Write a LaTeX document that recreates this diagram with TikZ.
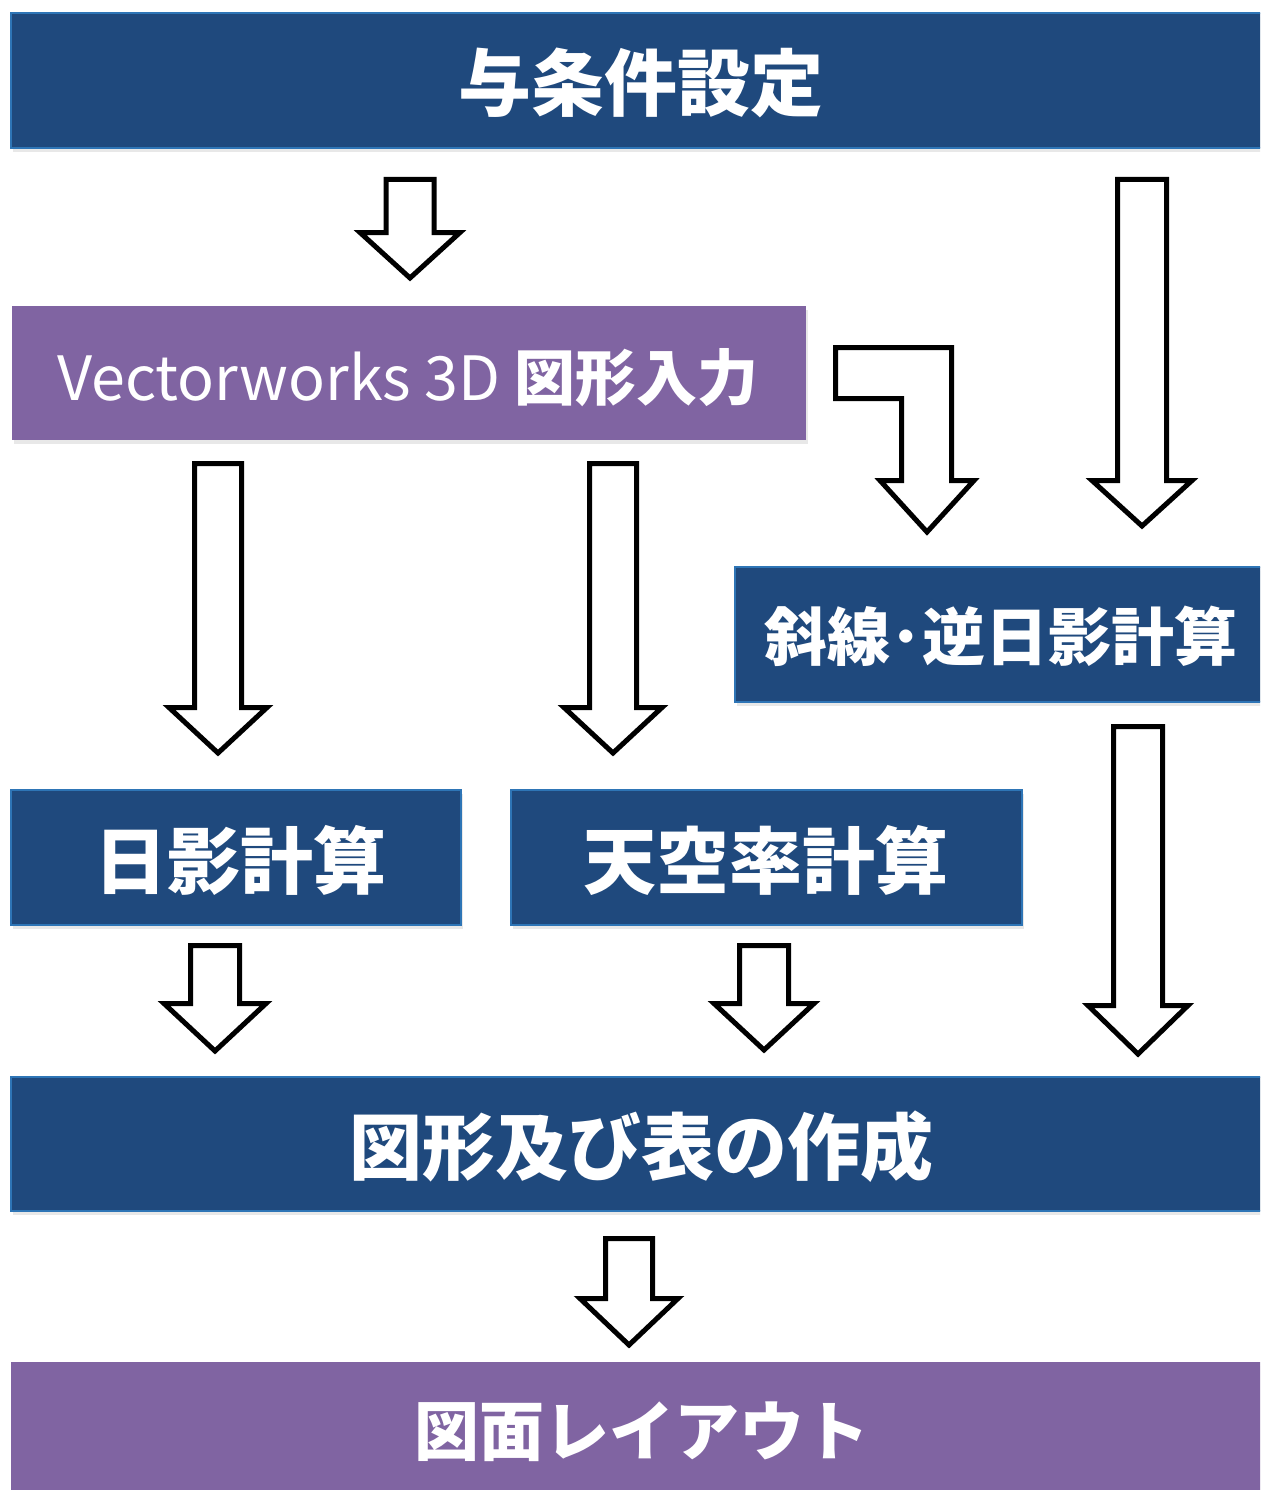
\documentclass[tikz,border=0pt]{standalone}
\usepackage{fontspec}
\newfontfamily\cjk{Noto Sans CJK JP}
\usetikzlibrary{shadows}
\definecolor{dblue}{HTML}{1F497D}
\definecolor{bedge}{HTML}{2E75B6}
\definecolor{purp}{HTML}{8064A2}
\tikzset{
  box/.style={rectangle, inner sep=0pt,
    drop shadow={shadow xshift=2pt, shadow yshift=-4pt, opacity=0.18}},
  dbox/.style={box, fill=dblue, draw=bedge, line width=2pt},
  pbox/.style={box, fill=purp},
  lbl/.style={text=white, inner sep=0pt, font=\cjk\bfseries\fontsize{73}{80}\selectfont},
  arrowline/.style={draw=black, fill=white, line width=5pt, miter limit=10},
}
% name, cx, outer top, outer head base, outer tip, outer shaft half width, outer head half width
\newcommand\blockarr[7]{%
  \draw[arrowline] ({#2-#6+2.5},{#3+2.5}) coordinate (#1-top) -- ({#2+#6-2.5},{#3+2.5})
    -- ({#2+#6-2.5},{#4+2.5}) -- ({#2+#7-5},{#4+2.5}) -- (#2,{#5-4}) coordinate (#1-tip)
    -- ({#2-#7+5},{#4+2.5}) -- ({#2-#6+2.5},{#4+2.5}) -- cycle;}
\begin{document}
\begin{tikzpicture}[x=1pt,y=-1pt]
\useasboundingbox (0,0) rectangle (1260,1490);
\clip (0,0) rectangle (1260,1490);
% boxes
\node[dbox, minimum width=1279, minimum height=135] (cond) at (650.5,80.5) {};
\node[lbl] (condt) at (641,83) {与条件設定};
\node[pbox, minimum width=794, minimum height=134] (vw) at (409,373) {};
\node[lbl, font=\cjk\fontsize{61}{70}\selectfont] (vwt) at (408,378) {Vectorworks 3D {\bfseries 図形入力}};
\node[dbox, minimum width=555, minimum height=135] (sha) at (1012.5,634.5) {};
\node[lbl, font=\cjk\bfseries\fontsize{63}{70}\selectfont] (shat) at (1001,636) {斜線･逆日影計算};
\node[dbox, minimum width=450, minimum height=135] (hik) at (236,857.5) {};
\node[lbl] (hikt) at (240,860) {日影計算};
\node[dbox, minimum width=511, minimum height=135] (ten) at (766.5,857.5) {};
\node[lbl] (tent) at (766,860) {天空率計算};
\node[dbox, minimum width=1279, minimum height=134] (zu) at (650.5,1144) {};
\node[lbl] (zut) at (641,1147) {図形及び表の作成};
\node[pbox, minimum width=1279, minimum height=158] (lay) at (650.5,1441) {};
\node[lbl, font=\cjk\bfseries\fontsize{65}{72}\selectfont] (layt) at (642,1432) {図面レイアウト};
% block arrows
\blockarr{a1}{410}{177}{230}{282}{26.5}{55}
\blockarr{a2}{1142}{177}{478}{530}{27}{55}
\draw[arrowline] (835.5,347.5) coordinate (a3-top) -- (951.5,347.5) -- (951.5,480.5) -- (974,480.5)
  -- (927,532) coordinate (a3-tip) -- (880,480.5) -- (901.5,480.5) -- (901.5,398.5) -- (835.5,398.5) -- cycle;
\blockarr{a4}{218}{461}{705}{757}{26}{54}
\blockarr{a5}{613}{461}{705}{757}{26}{54}
\blockarr{a6}{1138}{724}{1003}{1058}{27}{55}
\blockarr{a7}{215}{943}{1001}{1055}{27}{56}
\blockarr{a8}{764}{943}{1001}{1054}{27}{55}
\blockarr{a9}{629}{1236}{1296}{1349}{26}{54}
\end{tikzpicture}
\end{document}
